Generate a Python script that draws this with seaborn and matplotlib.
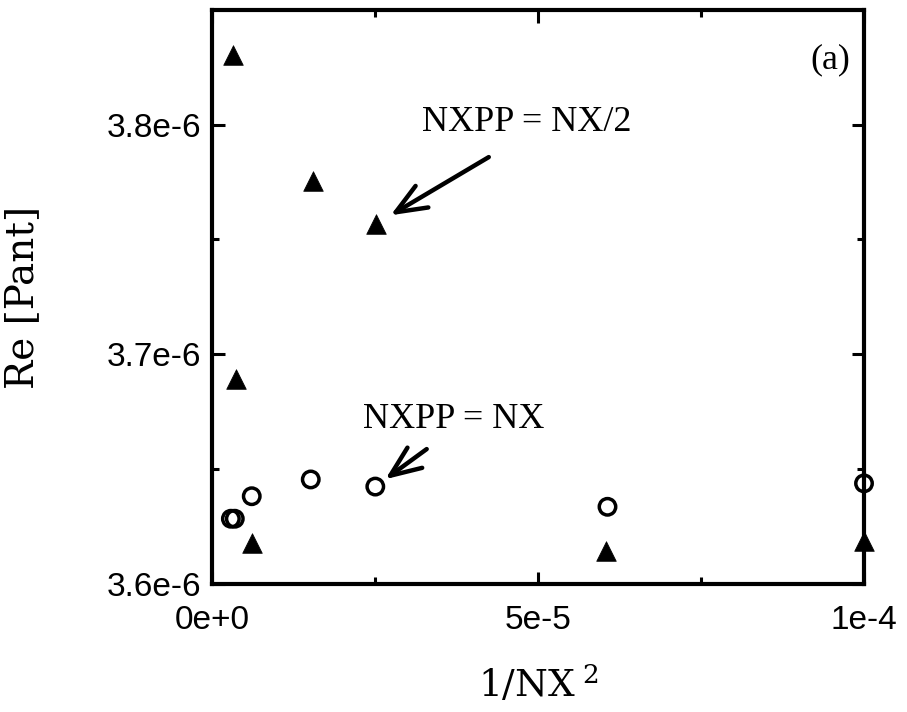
import numpy as np
import pandas as pd
import seaborn as sns
import matplotlib.pyplot as plt

# 1/NX^2 and Re for the two runs
half_x = [3.3e-6, 3.7e-6, 6.2e-6, 1.545e-5, 2.52e-5, 6.05e-5, 1.0e-4]
half_y = [3.8303e-6, 3.6891e-6, 3.6178e-6, 3.7754e-6, 3.7568e-6, 3.6145e-6, 3.6186e-6]
full_x = [2.9e-6, 3.5e-6, 6.1e-6, 1.515e-5, 2.505e-5, 6.066e-5, 1.0e-4]
full_y = [3.6284e-6, 3.6284e-6, 3.6382e-6, 3.6455e-6, 3.6424e-6, 3.6336e-6, 3.6438e-6]

x_ticks = [0, 5e-5, 1e-4]
x_ticklabels = ["0e+0", "5e-5", "1e-4"]
x_minor = [2.5e-5, 7.5e-5]
y_ticks = [3.6e-6, 3.7e-6, 3.8e-6]
y_ticklabels = ["3.6e-6", "3.7e-6", "3.8e-6"]
y_minor = [3.65e-6, 3.75e-6]

half_df = pd.DataFrame({"x": half_x, "y": half_y})
full_df = pd.DataFrame({"x": full_x, "y": full_y})

sns.set_style("ticks")
plt.rcParams['font.family'] = ['Liberation Sans', 'DejaVu Sans']
plt.rcParams['mathtext.fontset'] = 'dejavuserif'
for k in ['axes.edgecolor', 'xtick.color', 'ytick.color', 'text.color',
          'axes.labelcolor', 'xtick.labelcolor', 'ytick.labelcolor']:
    plt.rcParams[k] = 'black'

fig = plt.figure(figsize=(9.07, 7.12), dpi=100)
ax = fig.add_axes([0.2337, 0.1798, 0.7189, 0.806])

sns.scatterplot(data=half_df, x="x", y="y", marker="^", s=200, color="black",
                edgecolor="black", linewidth=0.5, clip_on=False, zorder=3, ax=ax)
sns.scatterplot(data=full_df, x="x", y="y", marker="o", s=140, facecolor="none",
                edgecolor="black", linewidth=2.5, clip_on=False, zorder=3, ax=ax)

ax.set_xlim(0, 1e-4)
ax.set_ylim(3.6e-6, 3.8498e-6)
ax.set_xticks(x_ticks)
ax.set_xticklabels(x_ticklabels)
ax.set_xticks(x_minor, minor=True)
ax.set_yticks(y_ticks)
ax.set_yticklabels(y_ticklabels)
ax.set_yticks(y_minor, minor=True)

for s in ax.spines.values():
    s.set_linewidth(3)
    s.set_color("black")
ax.tick_params(which='both', direction='in', top=True, right=True, width=2.2,
               color="black")
ax.tick_params(which='major', length=9, labelsize=24)
ax.tick_params(axis='y', which='major', pad=8)
ax.tick_params(axis='x', which='major', pad=15)
ax.tick_params(which='minor', length=5)

ax.set_xlabel("1/NX$^{\\ 2}$", fontsize=27, family="DejaVu Serif")
ax.set_ylabel("Re [Pant]", fontsize=28, family="DejaVu Serif")
ax.xaxis.set_label_coords(0.5, -0.14)
ax.yaxis.set_label_coords(-0.262, 0.5)

serif = ['Liberation Serif', 'DejaVu Serif']
ax.text(0.948, 0.913, "(a)", transform=ax.transAxes, fontsize=26, family=serif,
        ha="center", va="center")
ax.text(0.482, 0.805, "NXPP = NX/2", transform=ax.transAxes, fontsize=26,
        family=serif, ha="center", va="center")
ax.text(0.37, 0.286, "NXPP = NX", transform=ax.transAxes, fontsize=26,
        family=serif, ha="center", va="center")

arrow = dict(arrowstyle="->,head_length=1.1,head_width=0.45", lw=3.2,
             color="black", mutation_scale=20)
ax.annotate("", xy=(half_x[4], half_y[4]), xytext=(81, 48), textcoords="offset points",
            arrowprops=dict(arrow, shrinkA=0, shrinkB=12))
ax.annotate("", xy=(full_x[4], full_y[4]), xytext=(37, 27), textcoords="offset points",
            arrowprops=dict(arrow, shrinkA=0, shrinkB=9))

fig.savefig("out.png", dpi=100)
